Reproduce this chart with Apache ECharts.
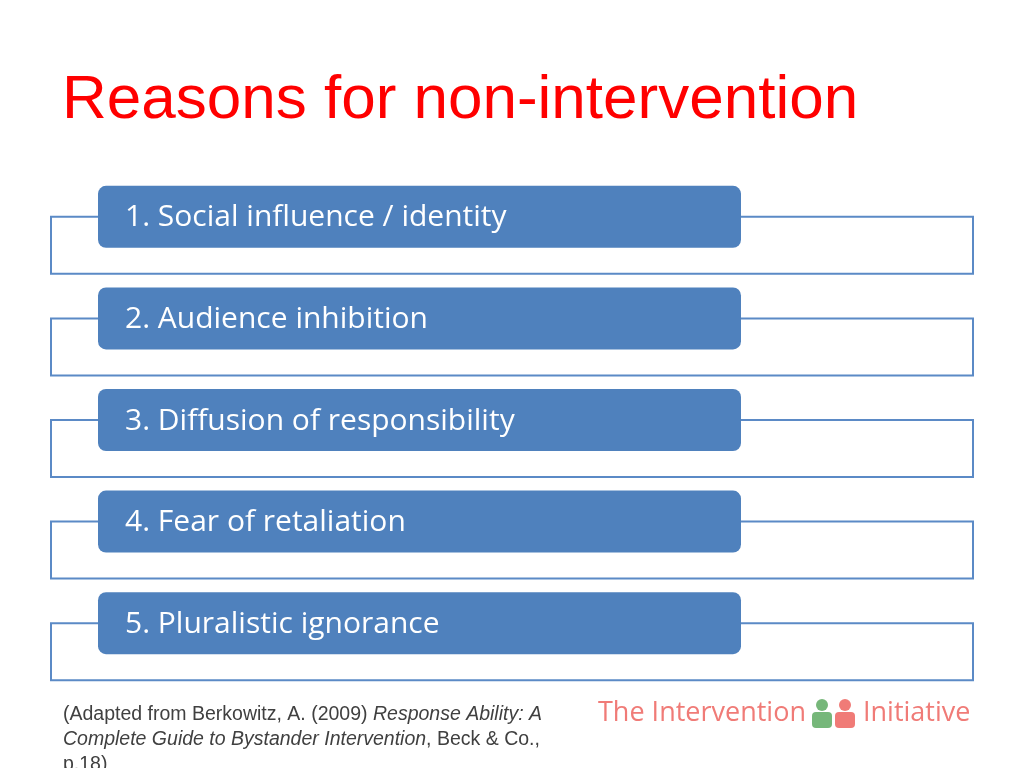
<!DOCTYPE html>
<html>
<head>
<meta charset="utf-8">
<script src="https://cdn.jsdelivr.net/npm/echarts@6/dist/echarts.min.js"></script>
<style>html,body{margin:0;padding:0;background:#fff}#c{width:1024px;height:768px}</style>
</head>
<body>
<div id="c"></div>
<script>
// スライドのテキスト
const title = 'Reasons for non-intervention';
const reasons = [
  '1. Social influence / identity',
  '2. Audience inhibition',
  '3. Diffusion of responsibility',
  '4. Fear of retaliation',
  '5. Pluralistic ignorance'
];

const chart = echarts.init(document.getElementById('c'));

function renderItem(params, api) {
  const cs = params.coordSys;
  const c = api.coord([0, api.value(0)]);
  const cy = c[1];
  const left = cs.x, right = cs.x + cs.width;
  const boxL = left + 47, boxR = left + 690;
  const stroke = { stroke: '#5b8ac6', lineWidth: 2, fill: null };
  return {
    type: 'group',
    children: [
      { type: 'polyline', shape: { points: [[boxL, cy], [left, cy], [left, cy + 57], [right, cy + 57], [right, cy], [boxR, cy]] }, style: stroke },
      { type: 'rect', shape: { x: boxL, y: cy - 31, width: boxR - boxL, height: 62, r: 8 }, style: { fill: '#4f81bd' } },
      { type: 'text', style: { x: boxL + 27, y: cy + 1, text: reasons[params.dataIndex], fill: '#fff', font: '30px "Open Sans", "Noto Sans", sans-serif', verticalAlign: 'middle' } }
    ]
  };
}

chart.setOption({
  animation: false,
  grid: { left: 51, right: 51, top: 166, bottom: 94 },
  xAxis: { type: 'value', min: 0, max: 1, show: false },
  yAxis: { type: 'category', data: reasons, inverse: true, show: false },
  series: [{ type: 'custom', renderItem, data: reasons.map((r, i) => [i]) }],
  graphic: [
    { type: 'text', left: 62, top: 70, style: { text: title, fill: '#ff0000', font: '62px "Liberation Sans", Arial, sans-serif' } },
    { type: 'text', left: 63, top: 702, style: {
      text: '(Adapted from Berkowitz, A. (2009) {i|Response Ability: A}\n{i|Complete Guide to Bystander Intervention}, Beck & Co.,\np.18)',
      fill: '#404040', font: '19.5px "Liberation Sans", Arial, sans-serif', lineHeight: 25,
      rich: { i: { fontStyle: 'italic', fontSize: 19.5, fontFamily: '"Liberation Sans", Arial, sans-serif', fill: '#404040' } } } },
    { type: 'text', left: 598, top: 700, style: { text: 'The Intervention', fill: '#f07b77', font: '27px "Open Sans", sans-serif' } },
    { type: 'circle', shape: { cx: 822, cy: 705, r: 6 }, style: { fill: '#76b77a' } },
    { type: 'rect', shape: { x: 812, y: 712, width: 20, height: 16, r: 4 }, style: { fill: '#76b77a' } },
    { type: 'circle', shape: { cx: 845, cy: 705, r: 6 }, style: { fill: '#f07b77' } },
    { type: 'rect', shape: { x: 835, y: 712, width: 20, height: 16, r: 4 }, style: { fill: '#f07b77' } },
    { type: 'text', left: 863, top: 700, style: { text: 'Initiative', fill: '#f07b77', font: '27px "Open Sans", sans-serif' } }
  ]
});
</script>
</body>
</html>
